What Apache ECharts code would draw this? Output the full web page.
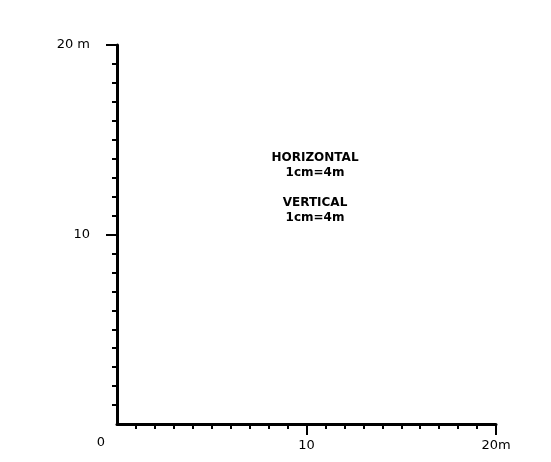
<!DOCTYPE html>
<html><head><meta charset="utf-8">
<script src="https://cdn.jsdelivr.net/npm/echarts@6/dist/echarts.min.js"></script>
<style>html,body{margin:0;padding:0;background:#fff}#c{width:551px;height:462px}</style>
</head><body><div id="c"></div>
<script>
// Scale axes (metres)
const xRange = [0, 20];
const yRange = [0, 20];
const majorStep = 10;
const majorTicks = [10, 20];
const xTickLabels = {0: '0', 10: '10', 20: '20m'};
const yTickLabels = {0: '', 10: '10', 20: '20 m'};
// Scale annotation
const noteLines = ['HORIZONTAL', '1cm=4m', 'VERTICAL', '1cm=4m'];
const noteY = [158, 173, 203, 218];

const chart = echarts.init(document.getElementById('c'), null, {renderer: 'canvas'});
const font = 'DejaVu Sans';
const axisLine = {show: true, lineStyle: {color: '#000', width: 3}};
chart.setOption({
  animation: false,
  backgroundColor: '#fff',
  grid: {left: 117, top: 45, right: 55, bottom: 38, containLabel: false},
  xAxis: {
    type: 'value', min: xRange[0], max: xRange[1], interval: majorStep,
    axisLine: axisLine,
    axisTick: {show: true, customValues: majorTicks, length: 11, lineStyle: {color: '#000', width: 2}},
    minorTick: {show: true, splitNumber: 10, length: 5, lineStyle: {color: '#000', width: 2}},
    splitLine: {show: false},
    axisLabel: {
      margin: 15, color: '#000', fontFamily: font, fontSize: 13,
      formatter: v => v === 0 ? '{o|' + xTickLabels[0] + '}' : xTickLabels[v],
      rich: {o: {padding: [0, 32, 0, 0], fontFamily: font, fontSize: 13, color: '#000', lineHeight: 8}}
    }
  },
  yAxis: {
    type: 'value', min: yRange[0], max: yRange[1], interval: majorStep,
    axisLine: axisLine,
    axisTick: {show: true, customValues: majorTicks, length: 11, lineStyle: {color: '#000', width: 2}},
    minorTick: {show: true, splitNumber: 10, length: 5, lineStyle: {color: '#000', width: 2}},
    splitLine: {show: false},
    axisLabel: {
      margin: 27, color: '#000', fontFamily: font, fontSize: 13,
      formatter: v => yTickLabels[v]
    }
  },
  graphic: noteLines.map((t, i) => ({
    type: 'text',
    style: {text: t, x: 315, y: noteY[i], textAlign: 'center', textVerticalAlign: 'middle',
      fill: '#000', font: 'bold 12px "DejaVu Sans"'}
  })),
  series: [{type: 'line', data: [], silent: true}]
});
</script></body></html>
